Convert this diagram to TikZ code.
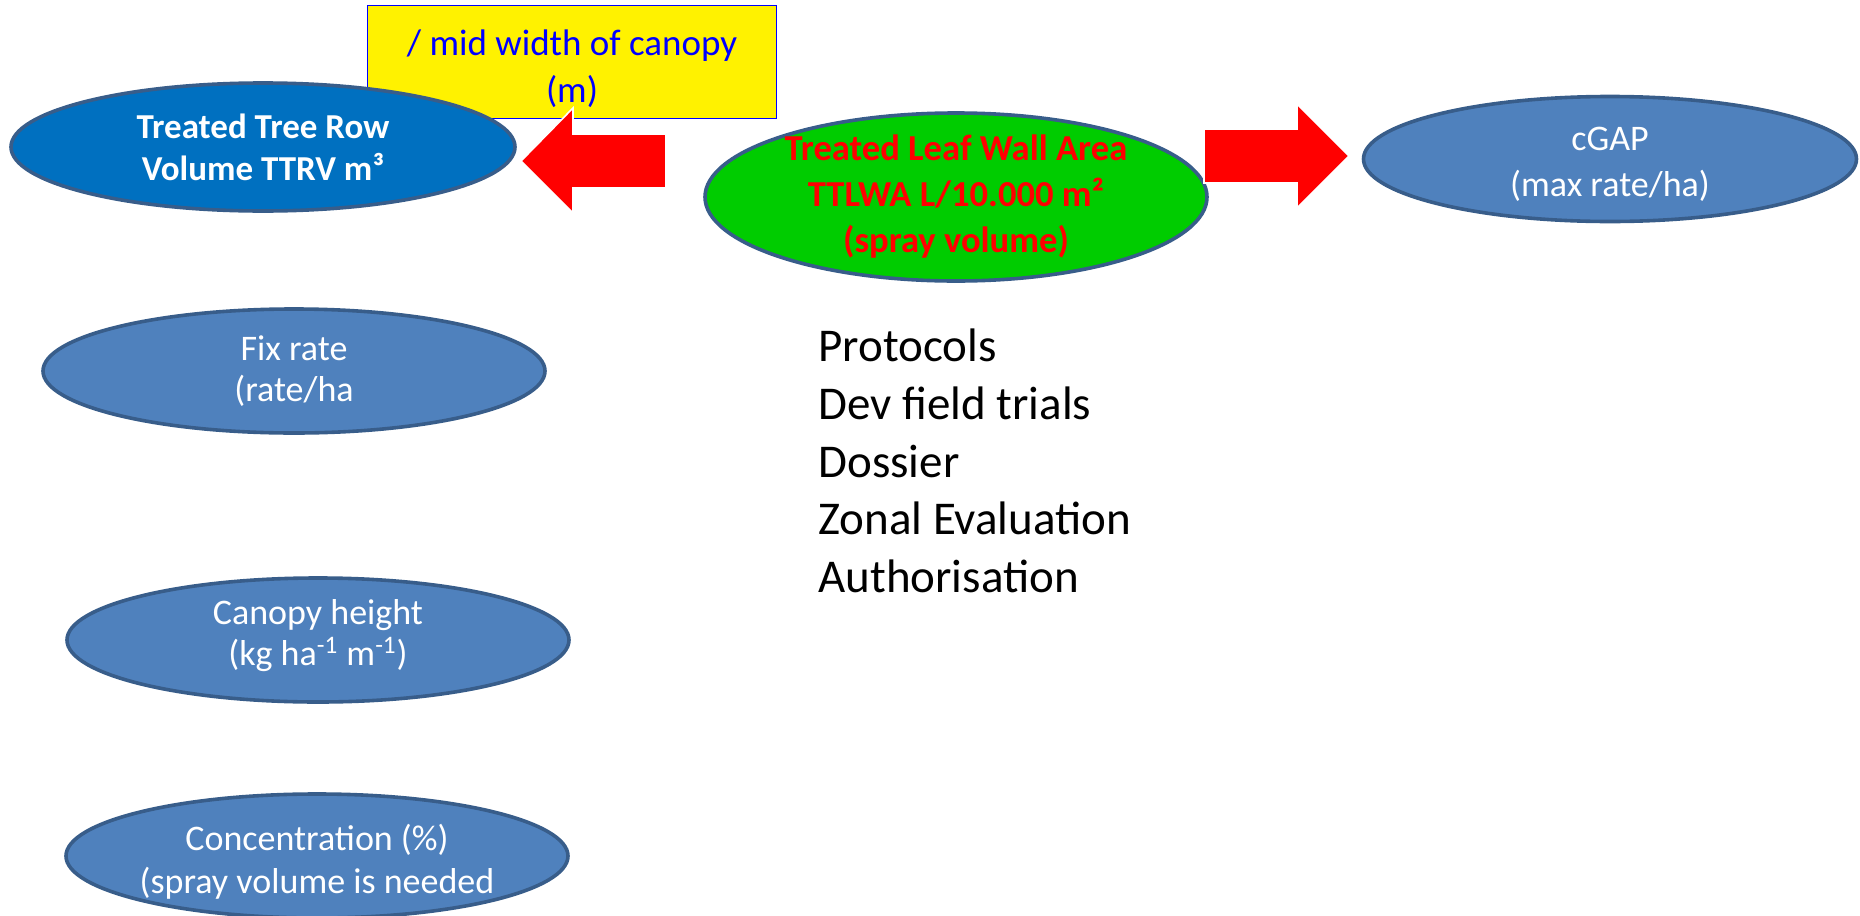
\documentclass[tikz,border=0pt]{standalone}
\usepackage{fontspec}
\setmainfont{Carlito}
\usetikzlibrary{shapes.geometric}

\definecolor{ttrvblue}{RGB}{0,112,192}
\definecolor{ovalblue}{RGB}{79,129,189}
\definecolor{ovalline}{RGB}{56,93,138}
\definecolor{leafgreen}{RGB}{0,204,0}
\definecolor{boxblue}{RGB}{0,0,255}

\begin{document}
\begin{tikzpicture}[x=0.5pt, y=-0.5pt,
      oval/.style={ellipse, draw=ovalline, line width=1.8pt, fill=ovalblue,
        minimum width=251pt, minimum height=62pt, inner sep=0pt},
      ovaltxt/.style={text=white, align=center, inner sep=0pt,
        font=\fontsize{18}{20.5}\selectfont},
      notebox/.style={draw=boxblue, line width=0.8pt, fill=yellow,
        minimum width=204.5pt, minimum height=56.5pt},
      notetxt/.style={text=boxblue, align=center, inner sep=0pt,
        font=\fontsize{18.5}{23.5}\selectfont},
      bigarrow/.style={fill=red, draw=white, line width=0.8pt},
      steps/.style={align=left, inner sep=0pt, anchor=west,
        font=\fontsize{23.5}{28.8}\selectfont}
    ]
    \useasboundingbox (0,0) rectangle (1860,916);
    \node[notebox] (mid) at (572,62) {};
    \node[notetxt] (midtxt) at (572,69) {/ mid width of canopy\\(m)};
    \node[oval, fill=ttrvblue, minimum width=252pt, minimum height=64pt] (ttrv) at (263,147) {};
    \node[ovaltxt, font=\fontsize{17.5}{21}\selectfont\bfseries] (ttrvtxt) at (ttrv)
      {Treated Tree Row\\Volume TTRV m³};
    \node[oval, fill=leafgreen, minimum height=84pt] (ttlwa) at (956,197) {};
    \node[ovaltxt, text=red, font=\fontsize{18.3}{23}\selectfont\bfseries] (ttlwatxt) at (ttlwa)
      {Treated Leaf Wall Area\\TTLWA L/10.000 m²\\(spray volume)};
    \node[oval, minimum width=246.5pt, minimum height=62.5pt] (cgap) at (1610,159) {};
    \node[ovaltxt, font=\fontsize{18}{23}\selectfont] (cgaptxt) at (1610,164) {cGAP\\(max rate/ha)};
    \node[oval] (fix) at (294,371) {};
    \node[ovaltxt] (fixtxt) at (fix) {Fix rate\\(rate/ha};
    \node[oval] (height) at (318,640) {};
    \node[ovaltxt] (heighttxt) at (318,636)
      {Canopy height\\(kg ha\textsuperscript{-1} m\textsuperscript{-1})};
    \node[oval] (conc) at (317,856) {};
    \node[ovaltxt, font=\fontsize{18}{21.5}\selectfont] (conctxt) at (317,862)
      {Concentration (\%)\\(spray volume is needed};
    % block arrows
    \filldraw[bigarrow] (666,134) -- (573,134) -- (573,108) -- (521,161)
      -- (573,213) -- (573,188) -- (666,188) -- cycle;
    \filldraw[bigarrow] (1204,129) -- (1297,129) -- (1297,104) -- (1349,156)
      -- (1297,208) -- (1297,183) -- (1204,183) -- cycle;
    \node[steps] (list) at (818,461)
      {Protocols\\Dev field trials\\Dossier\\Zonal Evaluation\\Authorisation};
  \end{tikzpicture}
\end{document}
